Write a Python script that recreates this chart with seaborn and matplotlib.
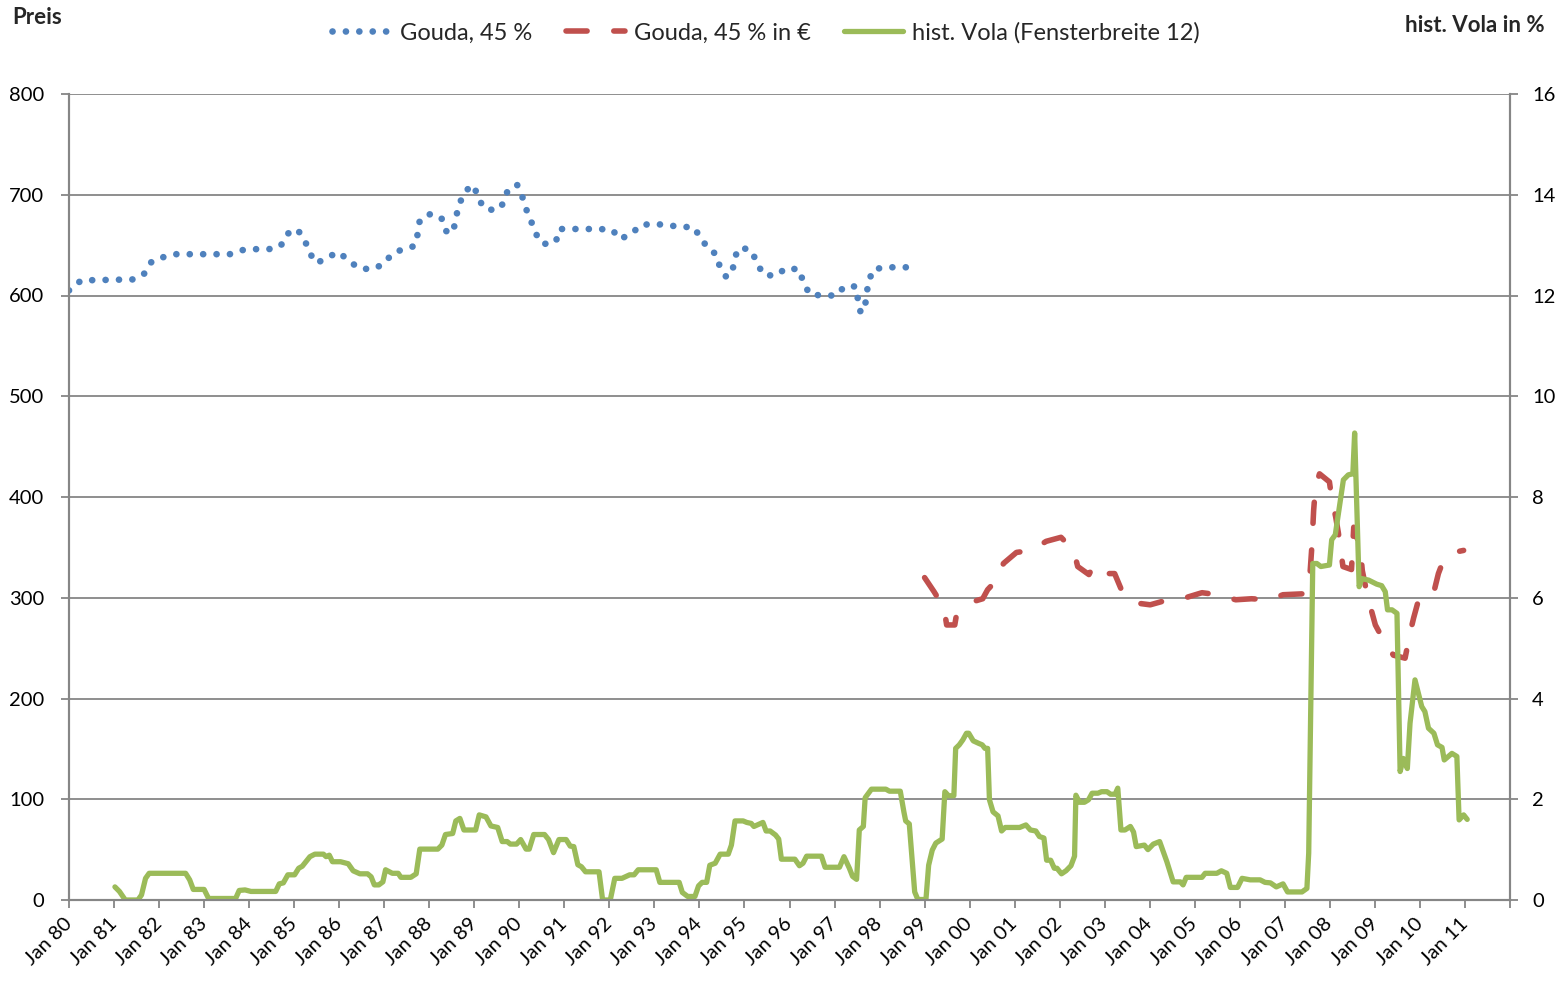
import matplotlib
matplotlib.use("Agg")
import matplotlib.pyplot as plt
import pandas as pd
import seaborn as sns

# Gouda 45 % (price, left axis) - decimal years
gouda_t = [1980.00, 1980.27, 1981.46, 1981.68, 1981.84, 1982.09, 1982.37, 1983.57, 1983.84, 1984.14,
           1984.44, 1984.70, 1984.84, 1985.06, 1985.23, 1985.33, 1985.50, 1985.74, 1985.99, 1986.20,
           1986.44, 1986.73, 1986.98, 1987.17, 1987.41, 1987.67, 1987.75, 1987.79, 1988.03, 1988.27,
           1988.37, 1988.52, 1988.59, 1988.64, 1988.77, 1988.94, 1989.09, 1989.18, 1989.46, 1989.64,
           1989.74, 1989.95, 1990.06, 1990.15, 1990.26, 1990.37, 1990.53, 1990.81, 1990.89, 1991.19,
           1991.79, 1992.07, 1992.23, 1992.49, 1992.69, 1992.98, 1993.28, 1993.57, 1993.86, 1994.04,
           1994.18, 1994.37, 1994.45, 1994.60, 1994.74, 1994.79, 1994.92, 1995.17, 1995.28, 1995.45,
           1995.72, 1995.91, 1996.21, 1996.31, 1996.45, 1996.74, 1997.04, 1997.22, 1997.47, 1997.52,
           1997.58, 1997.67, 1997.71, 1997.75, 1997.86, 1998.14, 1998.74]
gouda_v = [605, 615, 616, 622, 634, 638, 641, 641, 645, 646,
           646, 649, 661, 666, 656, 643, 632, 638, 643, 635,
           627, 626, 631, 641, 646, 649, 662, 675, 681, 677,
           664, 662, 675, 688, 701, 710, 700, 688, 684, 691,
           704, 710, 699, 686, 674, 661, 651, 653, 666, 666,
           666, 665, 656, 661, 670, 671, 670, 668, 668, 657,
           647, 641, 629, 618, 626, 639, 648, 644, 631, 620,
           620, 627, 626, 613, 601, 600, 600, 609, 609, 596,
           583, 587, 600, 613, 626, 628, 628]

# Gouda 45 % in EUR (left axis)
euro_t = [1999.00, 1999.21, 1999.43, 1999.49, 1999.67, 1999.70, 1999.83, 2000.14, 2000.29, 2000.40,
          2000.65, 2000.75, 2001.04, 2001.37, 2001.70, 2002.03, 2002.31, 2002.40, 2002.65, 2002.74,
          2002.84, 2003.22, 2003.37, 2003.66, 2004.01, 2004.41, 2004.72, 2005.16, 2005.51, 2005.91,
          2006.26, 2006.65, 2006.96, 2007.45, 2007.55, 2007.60, 2007.64, 2007.68, 2007.77, 2007.99,
          2008.04, 2008.13, 2008.19, 2008.29, 2008.48, 2008.53, 2008.57, 2008.69, 2008.72, 2008.82,
          2008.90, 2009.01, 2009.19, 2009.41, 2009.67, 2009.78, 2009.86, 2009.97, 2010.23, 2010.30,
          2010.41, 2010.52, 2010.86, 2010.97]
euro_v = [320, 306, 290, 273, 273, 281, 287, 297, 299, 308,
          320, 334, 345, 347, 356, 360, 347, 331, 323, 331,
          324, 324, 308, 295, 293, 298, 299, 305, 303, 298,
          299, 298, 303, 304, 318, 351, 387, 410, 423, 415,
          399, 380, 364, 331, 328, 370, 366, 342, 327, 305,
          291, 273, 258, 243, 240, 265, 280, 298, 301, 304,
          324, 337, 346, 347]

# hist. Vola, window 12 (right axis, %)
vola_t = [1981.02, 1981.12, 1981.25, 1981.53, 1981.61, 1981.70, 1981.78, 1982.59, 1982.68, 1982.76,
          1983.00, 1983.10, 1983.70, 1983.78, 1983.91, 1984.04, 1984.59, 1984.67, 1984.76, 1984.86,
          1985.01, 1985.10, 1985.18, 1985.35, 1985.46, 1985.65, 1985.71, 1985.78, 1985.85, 1986.03,
          1986.20, 1986.31, 1986.46, 1986.63, 1986.71, 1986.78, 1986.88, 1986.97, 1987.03, 1987.18,
          1987.31, 1987.37, 1987.59, 1987.71, 1987.79, 1988.19, 1988.28, 1988.36, 1988.52, 1988.59,
          1988.68, 1988.77, 1989.03, 1989.11, 1989.26, 1989.37, 1989.52, 1989.62, 1989.73, 1989.80,
          1989.94, 1990.03, 1990.15, 1990.22, 1990.32, 1990.56, 1990.65, 1990.76, 1990.88, 1991.04,
          1991.13, 1991.21, 1991.30, 1991.38, 1991.47, 1991.77, 1991.85, 1992.02, 1992.12, 1992.28,
          1992.45, 1992.55, 1992.64, 1993.04, 1993.12, 1993.55, 1993.62, 1993.74, 1993.90, 1993.98,
          1994.06, 1994.16, 1994.23, 1994.35, 1994.46, 1994.64, 1994.71, 1994.79, 1994.97, 1995.05,
          1995.15, 1995.21, 1995.41, 1995.48, 1995.57, 1995.69, 1995.76, 1995.82, 1996.12, 1996.22,
          1996.30, 1996.38, 1996.71, 1996.79, 1997.11, 1997.21, 1997.33, 1997.40, 1997.49, 1997.55,
          1997.64, 1997.68, 1997.82, 1998.14, 1998.22, 1998.46, 1998.54, 1998.58, 1998.66, 1998.78,
          1998.85, 1999.03, 1999.09, 1999.17, 1999.25, 1999.39, 1999.45, 1999.53, 1999.65, 1999.69,
          1999.77, 1999.85, 1999.93, 1999.98, 2000.08, 2000.20, 2000.28, 2000.34, 2000.40, 2000.44,
          2000.52, 2000.63, 2000.71, 2000.79, 2001.11, 2001.25, 2001.35, 2001.47, 2001.55, 2001.65,
          2001.71, 2001.80, 2001.88, 2001.94, 2002.04, 2002.14, 2002.25, 2002.33, 2002.36, 2002.44,
          2002.55, 2002.64, 2002.72, 2002.85, 2002.93, 2003.05, 2003.13, 2003.23, 2003.29, 2003.36,
          2003.45, 2003.57, 2003.64, 2003.70, 2003.88, 2003.96, 2004.08, 2004.22, 2004.38, 2004.52,
          2004.68, 2004.74, 2004.81, 2005.16, 2005.23, 2005.49, 2005.59, 2005.71, 2005.79, 2005.95,
          2006.05, 2006.23, 2006.45, 2006.56, 2006.68, 2006.81, 2006.96, 2007.06, 2007.38, 2007.49,
          2007.53, 2007.62, 2007.71, 2007.80, 2007.99, 2008.04, 2008.12, 2008.30, 2008.41, 2008.51,
          2008.55, 2008.65, 2008.71, 2008.86, 2009.04, 2009.15, 2009.23, 2009.28, 2009.38, 2009.49,
          2009.56, 2009.63, 2009.72, 2009.78, 2009.89, 2010.04, 2010.11, 2010.19, 2010.31, 2010.39,
          2010.49, 2010.54, 2010.71, 2010.82, 2010.87, 2010.97, 2011.05]
vola_v = [0.26, 0.17, 0.00, 0.00, 0.10, 0.43, 0.53, 0.53, 0.40, 0.21,
          0.21, 0.03, 0.03, 0.19, 0.20, 0.17, 0.17, 0.32, 0.34, 0.50,
          0.50, 0.63, 0.67, 0.86, 0.91, 0.91, 0.86, 0.89, 0.76, 0.76,
          0.72, 0.58, 0.52, 0.52, 0.46, 0.30, 0.30, 0.36, 0.60, 0.53,
          0.53, 0.45, 0.45, 0.52, 1.01, 1.01, 1.09, 1.30, 1.32, 1.57,
          1.62, 1.39, 1.39, 1.69, 1.65, 1.47, 1.44, 1.16, 1.16, 1.11,
          1.11, 1.20, 1.01, 1.01, 1.30, 1.30, 1.20, 0.94, 1.20, 1.20,
          1.07, 1.06, 0.70, 0.66, 0.56, 0.56, 0.00, 0.00, 0.43, 0.43,
          0.50, 0.50, 0.60, 0.60, 0.35, 0.35, 0.15, 0.07, 0.07, 0.28,
          0.35, 0.35, 0.69, 0.73, 0.91, 0.91, 1.09, 1.57, 1.57, 1.54,
          1.52, 1.46, 1.54, 1.37, 1.37, 1.29, 1.21, 0.81, 0.81, 0.68,
          0.73, 0.87, 0.87, 0.65, 0.65, 0.86, 0.63, 0.47, 0.41, 1.39,
          1.46, 2.03, 2.20, 2.20, 2.16, 2.16, 1.75, 1.57, 1.51, 0.16,
          0.01, 0.01, 0.69, 0.99, 1.13, 1.21, 2.15, 2.07, 2.07, 3.01,
          3.08, 3.18, 3.31, 3.31, 3.16, 3.11, 3.08, 3.01, 3.01, 1.99,
          1.75, 1.67, 1.37, 1.44, 1.44, 1.49, 1.39, 1.37, 1.26, 1.23,
          0.79, 0.79, 0.63, 0.63, 0.52, 0.58, 0.68, 0.87, 2.08, 1.94,
          1.94, 1.99, 2.12, 2.12, 2.15, 2.15, 2.10, 2.10, 2.22, 1.39,
          1.39, 1.46, 1.35, 1.06, 1.09, 1.00, 1.11, 1.16, 0.76, 0.36,
          0.36, 0.30, 0.45, 0.45, 0.53, 0.53, 0.58, 0.53, 0.25, 0.25,
          0.43, 0.40, 0.40, 0.35, 0.34, 0.26, 0.32, 0.16, 0.16, 0.23,
          0.93, 6.68, 6.68, 6.62, 6.65, 7.15, 7.25, 8.34, 8.44, 8.46,
          9.27, 6.22, 6.38, 6.35, 6.27, 6.24, 6.12, 5.76, 5.76, 5.69,
          2.55, 2.81, 2.61, 3.51, 4.37, 3.84, 3.74, 3.41, 3.31, 3.08,
          3.03, 2.78, 2.91, 2.85, 1.59, 1.69, 1.60]

years = list(range(1980, 2013))
year_labels = [f"Jan {y % 100:02d}" for y in years[:-1]] + [""]

gouda = pd.DataFrame({"t": gouda_t, "v": gouda_v})
euro = pd.DataFrame({"t": euro_t, "v": euro_v})
vola = pd.DataFrame({"t": vola_t, "v": vola_v})

sns.set_theme(style="white")
plt.rcParams["font.family"] = ["Lato", "DejaVu Sans"]

blue, red, green, grey = "#4F81BD", "#C0504D", "#9BBB59", "#868686"

fig = plt.figure(figsize=(15.59, 9.82), dpi=100)
ax = fig.add_axes([69 / 1559, 1 - 900 / 982, (1510 - 69) / 1559, (900 - 94) / 982])
ax2 = ax.twinx()

sns.lineplot(data=gouda, x="t", y="v", ax=ax, color=blue, linewidth=4.8,
             linestyle=(0, (0.01, 2.0)), dash_capstyle="round", legend=False)
sns.lineplot(data=euro, x="t", y="v", ax=ax, color=red, linewidth=4.0,
             linestyle=(0, (3.8, 4.8)), dash_capstyle="round", legend=False)
sns.lineplot(data=vola, x="t", y="v", ax=ax2, color=green, linewidth=3.8,
             solid_joinstyle="round", legend=False)

ax.set_xlim(1980, 2012)
ax.set_ylim(0, 800)
ax2.set_ylim(0, 16)
ax.set_yticks(range(0, 801, 100))
ax2.set_yticks(range(0, 17, 2))
ax.set_xticks(years)
ax.set_xticklabels(year_labels, rotation=45, ha="right", va="center", rotation_mode="anchor")
ax.yaxis.grid(True, color=grey, linewidth=1.3)
ax.xaxis.grid(False)
ax.set_axisbelow(True)
ax.set_xlabel("")
ax.set_ylabel("")
ax2.set_ylabel("")

for a in (ax, ax2):
    for side in ("left", "right", "bottom"):
        a.spines[side].set_color(grey)
        a.spines[side].set_linewidth(1.5)
    a.spines["top"].set_visible(False)
ax.tick_params(axis="both", labelsize=14.5, colors=grey, labelcolor="black", length=6, width=1.3,
               direction="out", left=True, bottom=True)
ax.tick_params(axis="y", pad=12)
ax.tick_params(axis="x", pad=9)
ax2.tick_params(axis="y", labelsize=14.5, colors=grey, labelcolor="black", length=6, width=1.3,
                direction="out", right=True, pad=10)

fig.text(12 / 1559, 1 - 18 / 982, "Preis", fontsize=16, fontweight="bold", va="center", ha="left")
fig.text(1545 / 1559, 1 - 25 / 982, "hist. Vola in %", fontsize=16, fontweight="bold",
         va="center", ha="right")

handles = [ax.lines[0], ax.lines[1], ax2.lines[0]]
labels = ["Gouda, 45 %", "Gouda, 45 % in \u20ac", "hist. Vola (Fensterbreite 12)"]
fig.legend(handles, labels, loc="center", bbox_to_anchor=(766 / 1559, 1 - 33 / 982), ncol=3,
           frameon=False, fontsize=17, handlelength=2.5, handletextpad=0.4, columnspacing=1.4)

fig.savefig("out.png", dpi=100)
